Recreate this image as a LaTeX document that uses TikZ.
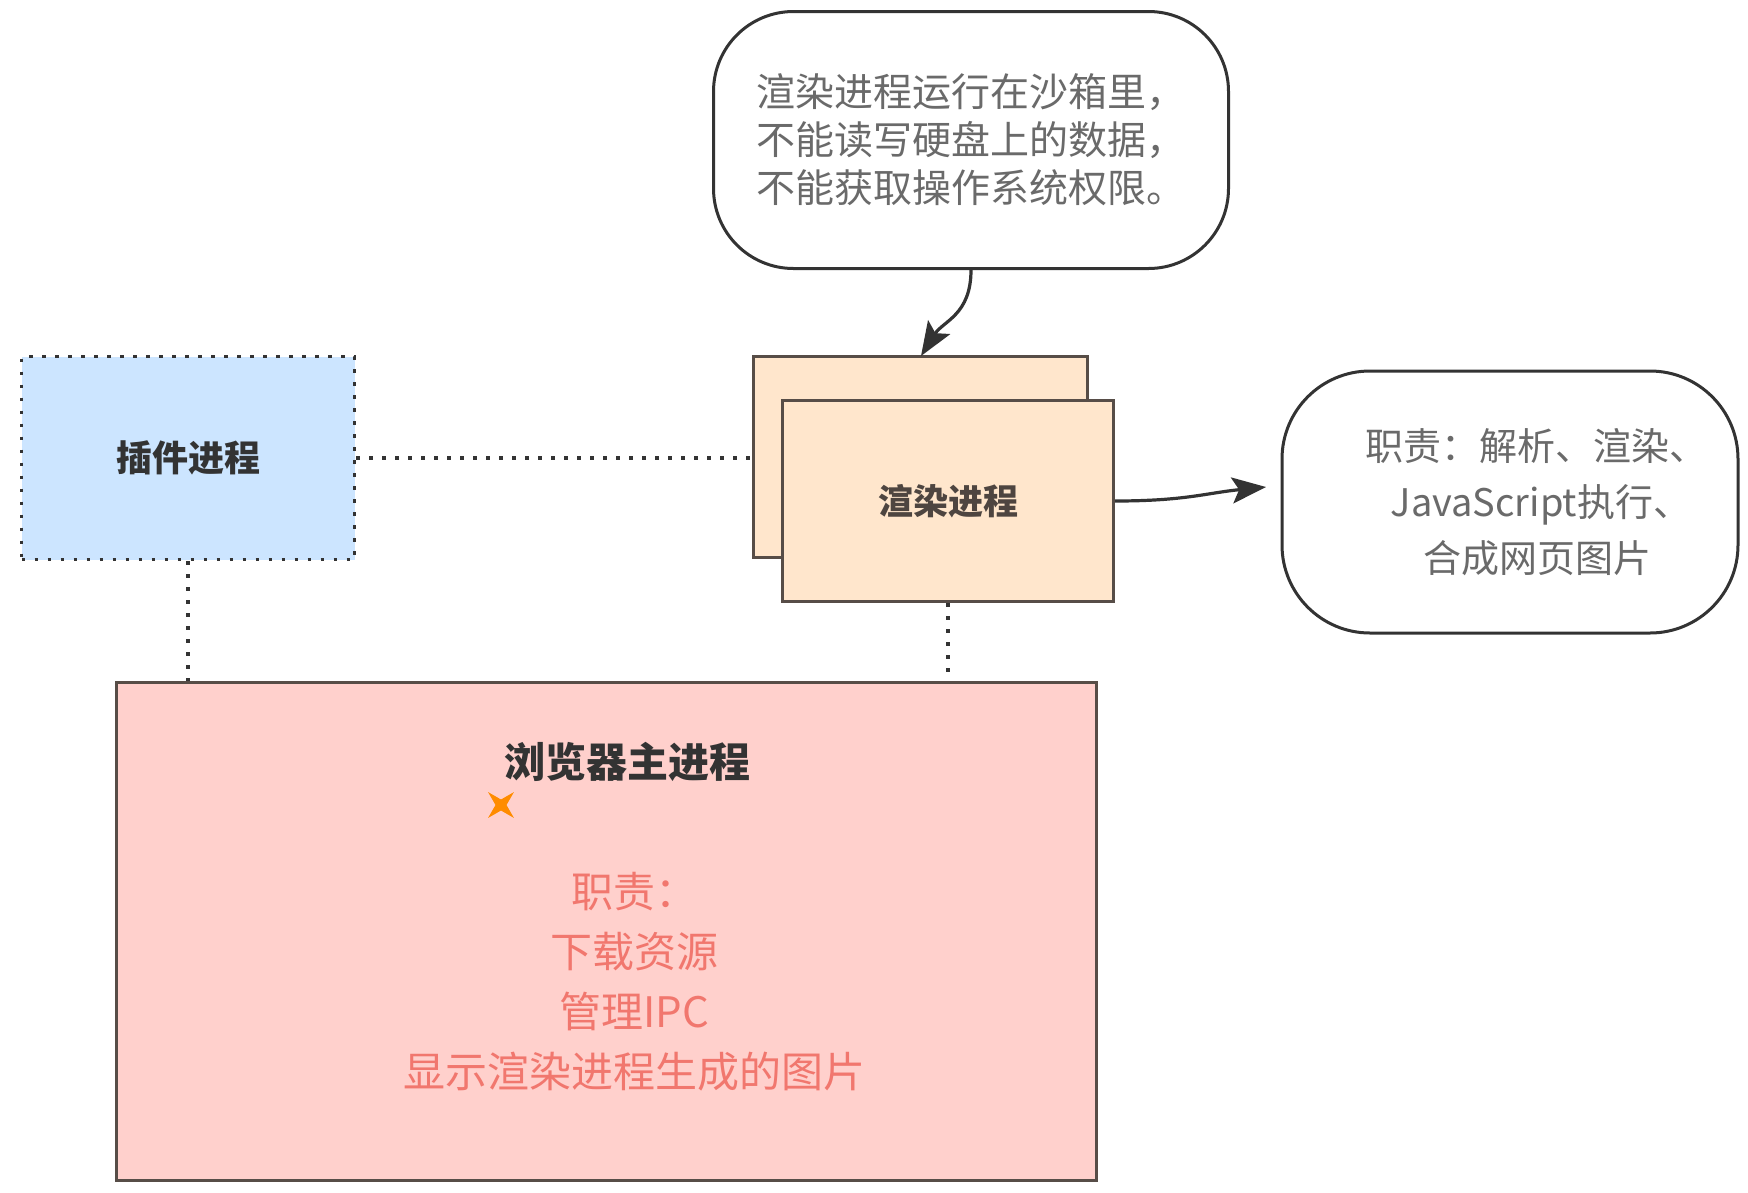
\documentclass[tikz,border=0pt]{standalone}
\usepackage{fontspec}
\setmainfont{Noto Sans CJK SC}
\usetikzlibrary{positioning,arrows.meta,shapes.geometric}
\definecolor{plugblue}{HTML}{CCE5FF}
\definecolor{rendtan}{HTML}{FFE6CC}
\definecolor{mainpink}{HTML}{FFD0CC}
\definecolor{dutyred}{HTML}{F1776E}
\definecolor{edgegray}{HTML}{574D47}
\definecolor{notegray}{HTML}{6A6A6A}
\definecolor{inkdark}{HTML}{333333}
\begin{document}
\begin{tikzpicture}[x=1pt, y=-1pt,
  block/.style={draw=edgegray, line width=3pt, fill=rendtan, minimum width=331pt, minimum height=201pt, inner sep=0pt},
  bubble/.style={draw=inkdark, line width=3pt, fill=white, inner sep=0pt, text=notegray, align=center},
  link/.style={draw=inkdark, line width=3.5pt, dash pattern=on 3.5pt off 9.5pt},
  flow/.style={draw=inkdark, line width=3.2pt, -{Stealth[length=34pt,width=26pt,inset=7pt]}}]

  \useasboundingbox (0,0) rectangle (1748,1192);

  % Process boxes
  \node[block, draw=inkdark, fill=plugblue, link, minimum width=333pt, minimum height=203pt,
        font=\fontsize{36}{40}\selectfont\bfseries, text=inkdark] (plugin) at (188,458) {插件进程};
  \node[block, minimum width=334pt] (rendback) at (920,457) {};
  \node[block, font=\fontsize{35}{40}\selectfont\bfseries, text=edgegray!90!black] (render) at (948,501) {渲染进程};
  \node[block, fill=mainpink, minimum width=980pt, minimum height=498pt] (main) at (606,931) {};

  % Main process texts
  \node[font=\fontsize{41}{48}\selectfont\bfseries, text=inkdark] (maintitle) at (627,762) {浏览器主进程};
  \node[star, star points=4, star point ratio=0.3, fill=orange!90!yellow, minimum size=11pt, inner sep=0pt] (spark) at (501,805) {};
  \node[font=\fontsize{42}{60}\selectfont, text=dutyred, align=center] (duties) at (634,982)
    {职责：\\下载资源\\管理IPC\\显示渲染进程生成的图片};

  % Notes
  \node[bubble, rounded corners=80pt, minimum width=515pt, minimum height=257pt,
        font=\fontsize{39}{48}\selectfont] (sandbox) at (971,140)
    {渲染进程运行在沙箱里，\\不能读写硬盘上的数据，\\不能获取操作系统权限。};
  \node[bubble, rounded corners=88pt, minimum width=456pt, minimum height=262pt,
        font=\fontsize{38}{56}\selectfont] (tasks) at (1510,502)
    {\hspace*{52pt}职责：解析、渲染、\\\hspace*{62pt}JavaScript执行、\\\hspace*{55pt}合成网页图片};

  \coordinate (T1) at (921,356);
  \coordinate (T2) at (1266,487);

  % dotted links
  \draw[link] (plugin.east) -- (plugin.east -| rendback.west);
  \draw[link] (plugin.south) -- (plugin.south |- main.north);
  \draw[link] (render.south) -- (render.south |- main.north);

  % arrows
  \draw[flow] (sandbox.south) .. controls +(0,45) and +(22,-35) .. (T1);
  \draw[flow] (render.east) .. controls +(70,0) and +(-60,6) .. (T2);

\end{tikzpicture}
\end{document}
